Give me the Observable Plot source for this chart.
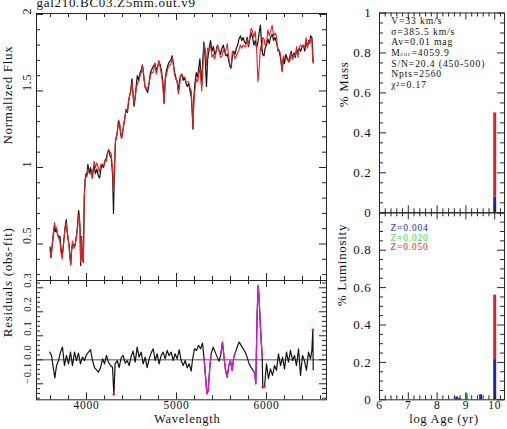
<!DOCTYPE html>
<html><head><meta charset="utf-8">
<script src="https://cdn.jsdelivr.net/npm/d3@7"></script>
<script src="https://cdn.jsdelivr.net/npm/@observablehq/plot@0.6"></script>
<style>
body{margin:0;background:#fff;}
#chart{position:relative;width:507px;height:429px;overflow:hidden;background:#fff;}
#chart svg{position:absolute;left:0;top:0;}
#chart svg text{letter-spacing:0.7px;}
#chart svg.info text{letter-spacing:0.9px;}
</style></head><body><div id="chart"></div>
<script>
const W = 507, H = 429;

// ---------- data ----------
const title = "gal210.BC03.Z5mm.out.v9";
const wave = [3595,3605,3615,3630,3645,3655,3665,3680,3695,3705,
3715,3730,3745,3760,3775,3785,3795,3805,3815,3825,
3835,3845,3860,3875,3890,3900,3912,3920,3928,3935,
3945,3955,3965,3975,3985,3995,4005,4015,4025,4035,
4045,4055,4065,4075,4085,4100,4115,4130,4145,4160,
4175,4190,4205,4220,4235,4248,4260,4275,4290,4300,
4310,4322,4340,4355,4367,4380,4390,4405,4420,4440,
4455,4470,4490,4505,4515,4528,4540,4555,4565,4580,
4595,4610,4622,4635,4650,4665,4680,4695,4710,4725,
4740,4760,4775,4790,4805,4820,4835,4850,4862,4875,
4890,4905,4920,4935,4952,4965,4980,4995,5008,5020,
5032,5045,5060,5075,5090,5105,5120,5135,5150,5165,
5175,5183,5192,5205,5220,5235,5250,5260,5270,5280,
5292,5304,5318,5333,5345,5360,5378,5395,5410,5425,
5440,5455,5470,5489,5505,5520,5535,5550,5565,5580,
5595,5607,5620,5635,5650,5665,5680,5695,5710,5725,
5740,5755,5770,5785,5800,5815,5830,5845,5860,5875,
5890,5905,5918,5933,5945,5958,5972,5985,6000,6015,
6030,6045,6063,6080,6095,6110,6125,6140,6155,6174,
6188,6200,6215,6230,6248,6262,6275,6290,6305,6320,
6335,6350,6365,6380,6395,6410,6425,6440,6455,6470,
6480,6490,6505,6512,6519];
const obsFlux = [0.48,0.41,0.47,0.55,0.62,0.58,0.60,0.56,0.54,0.55,
0.48,0.42,0.50,0.60,0.66,0.58,0.53,0.50,0.43,0.37,
0.46,0.50,0.49,0.50,0.56,0.62,0.72,0.68,0.60,0.36,
0.55,0.40,0.38,0.80,0.92,0.96,0.95,1.02,0.99,0.96,
1.00,0.97,0.93,0.98,1.01,0.96,0.99,0.95,0.93,0.99,
1.02,1.00,1.04,1.06,1.10,1.11,1.08,1.06,0.95,0.70,
0.98,1.17,1.22,1.30,1.28,1.22,1.19,1.25,1.30,1.38,
1.36,1.44,1.50,1.58,1.49,1.40,1.45,1.55,1.60,1.57,
1.62,1.64,1.67,1.60,1.53,1.51,1.49,1.55,1.62,1.64,
1.66,1.68,1.63,1.66,1.69,1.67,1.62,1.55,1.42,1.58,
1.64,1.67,1.69,1.70,1.73,1.68,1.62,1.58,1.56,1.50,
1.56,1.60,1.61,1.57,1.59,1.55,1.53,1.55,1.50,1.46,
1.36,1.25,1.45,1.55,1.62,1.59,1.66,1.71,1.62,1.54,
1.70,1.82,1.72,1.53,1.70,1.77,1.83,1.76,1.79,1.74,
1.76,1.80,1.77,1.74,1.78,1.80,1.76,1.73,1.74,1.70,
1.66,1.65,1.72,1.76,1.74,1.78,1.80,1.84,1.86,1.83,
1.85,1.82,1.81,1.85,1.79,1.84,1.88,1.85,1.80,1.83,
1.78,1.82,1.88,1.93,1.80,1.74,1.73,1.78,1.80,1.84,
1.81,1.85,1.87,1.83,1.85,1.82,1.78,1.76,1.72,1.63,
1.72,1.68,1.74,1.71,1.69,1.73,1.76,1.71,1.75,1.72,
1.77,1.75,1.78,1.76,1.79,1.80,1.76,1.82,1.79,1.83,
1.81,1.86,1.85,1.78,1.69];
const modelFlux = [0.46,0.42,0.46,0.57,0.64,0.60,0.61,0.56,0.53,0.52,
0.45,0.40,0.51,0.59,0.64,0.58,0.55,0.49,0.41,0.36,
0.47,0.52,0.47,0.49,0.56,0.60,0.69,0.67,0.61,0.38,
0.54,0.40,0.38,0.80,0.92,0.94,0.94,0.99,0.97,0.96,
0.96,0.97,0.94,1.00,1.04,1.00,1.03,1.00,0.97,1.02,
1.02,1.01,1.05,1.04,1.10,1.12,1.10,1.09,0.98,0.84,
1.00,1.18,1.22,1.31,1.30,1.22,1.19,1.24,1.30,1.38,
1.37,1.45,1.49,1.55,1.50,1.42,1.46,1.52,1.55,1.56,
1.60,1.62,1.67,1.61,1.52,1.52,1.52,1.55,1.60,1.62,
1.62,1.68,1.61,1.65,1.70,1.65,1.60,1.52,1.42,1.58,
1.61,1.65,1.67,1.67,1.72,1.67,1.60,1.58,1.56,1.48,
1.52,1.59,1.61,1.59,1.59,1.56,1.56,1.56,1.52,1.50,
1.36,1.26,1.42,1.51,1.58,1.56,1.62,1.65,1.58,1.50,
1.63,1.80,1.78,1.67,1.78,1.76,1.80,1.72,1.74,1.71,
1.75,1.80,1.77,1.72,1.73,1.77,1.75,1.77,1.81,1.72,
1.67,1.66,1.76,1.75,1.71,1.73,1.75,1.77,1.80,1.78,
1.80,1.79,1.79,1.84,1.80,1.86,1.91,1.89,1.85,1.89,
1.78,1.56,1.64,1.79,1.76,1.85,1.84,1.80,1.81,1.90,
1.86,1.89,1.93,1.86,1.88,1.86,1.76,1.77,1.74,1.63,
1.73,1.71,1.71,1.72,1.69,1.70,1.75,1.71,1.74,1.73,
1.79,1.72,1.79,1.80,1.79,1.80,1.78,1.85,1.78,1.83,
1.81,1.84,1.83,1.70,1.68];

const residWave = [3592,3611,3630,3648,3667,3689,3711,3733,3755,3778,
3800,3822,3844,3867,3889,3911,3933,3955,3978,4000,
4022,4044,4067,4089,4111,4133,4156,4178,4200,4222,
4244,4267,4289,4304,4318,4341,4363,4385,4407,4430,
4452,4474,4496,4518,4541,4563,4585,4607,4630,4652,
4674,4696,4718,4741,4763,4785,4807,4830,4852,4874,
4896,4918,4941,4963,4985,5007,5030,5052,5074,5096,
5119,5141,5163,5178,5200,5222,5244,5267,5289,5307,
5326,5337,5352,5370,5385,5407,5430,5452,5474,5493,
5511,5526,5545,5563,5581,5600,5618,5637,5655,5674,
5696,5718,5741,5763,5785,5807,5830,5852,5870,5881,
5896,5908,5919,5930,5941,5952,5959,5978,6000,6022,
6044,6067,6089,6111,6133,6156,6178,6200,6222,6244,
6267,6289,6311,6333,6356,6378,6400,6422,6444,6467,
6489,6504,6515,6519];
const resid = [0.032,0.018,-0.031,-0.075,-0.024,-0.003,0.032,0.053,-0.024,0.018,
-0.017,0.032,-0.024,0.032,-0.003,0.028,-0.017,0.011,-0.003,0.022,
0.032,0.042,-0.003,-0.033,-0.042,-0.051,-0.033,0.004,-0.017,0.018,
-0.010,-0.024,-0.031,-0.144,-0.017,-0.003,-0.033,0.008,0.018,-0.014,
-0.003,-0.024,0.014,0.036,-0.010,0.053,0.011,0.032,-0.017,0.011,
-0.033,0.004,0.028,0.046,-0.003,0.025,-0.017,0.018,0.032,0.004,
0.039,0.018,0.032,-0.003,0.025,0.004,0.042,-0.003,-0.024,-0.003,
-0.033,-0.017,-0.047,0.000,0.046,0.039,0.060,0.046,0.069,0.004,
-0.086,-0.142,-0.128,-0.031,0.025,0.053,0.032,0.011,-0.006,0.025,
0.074,0.018,-0.044,-0.072,-0.024,-0.003,-0.044,0.011,0.032,0.053,
0.074,0.060,0.046,0.032,0.011,-0.017,-0.033,-0.044,-0.058,-0.100,
0.192,0.310,0.247,0.157,0.081,0.011,-0.114,-0.111,-0.017,-0.079,
-0.038,-0.065,-0.024,-0.044,0.025,-0.024,0.011,-0.038,0.032,-0.010,
0.039,-0.003,0.018,-0.024,0.046,-0.065,0.018,-0.003,-0.044,0.032,
0.004,0.039,0.125,-0.042];
const maskRanges = [[5300, 5390], [5488, 5662], [5845, 5955]];
const clipWave = [4304, 5959, 5978, 6515];
const clipResid = [-0.144, -0.114, -0.111, 0.125];

const popLogAge = [8.68, 8.78, 9.02, 9.51, 10.0];
const metals = ["Z=0.004", "Z=0.020", "Z=0.050"];
const metalColors = ["#2323b4", "#3ad83a", "#dc2424"];
const massZ004 = [0, 0, 0, 0, 0.078];
const massZ020 = [0, 0, 0, 0, 0];
const massZ050 = [0, 0, 0, 0, 0.422];
const lumZ004 = [0.015, 0.006, 0, 0.027, 0.215];
const lumZ020 = [0, 0, 0.032, 0, 0];
const lumZ050 = [0, 0, 0, 0, 0.345];

const infoLines = ["V=33 km/s", "σ=385.5 km/s", "Av=0.01 mag", "M", "S/N=20.4 (450-500)", "Npts=2560", "χ²=0.17"];
const massSub = "cor", massVal = "=4059.9";

const fluxYTicks = [0.5, 1, 1.5, 2];
const residYTicks = [-0.1, 0, 0.1, 0.2, 0.3];
const residYLabels = ["−0.1", "0.0", "0.1", "0.2", "0.3"];
const waveTicks = [4000, 5000, 6000];
const ageTicks = [6, 7, 8, 9, 10];
const fracTicks = [0, 0.2, 0.4, 0.6, 0.8, 1];

// ---------- helpers ----------
const rng = (a, b, s) => d3.range(Math.round(a / s), Math.round(b / s) + 1).map(k => +(k * s).toFixed(5));
const minorOf = (a, b, s, major) => rng(a, b, s).filter(v => !major.some(m => Math.abs(m - v) < 1e-9));
const INK = "#262626";
function frameTicks(fw, fh, xMaj, xMin, yMaj, yMin) {
  const out = [], L = 7, S = 4, st = {stroke: INK, strokeWidth: 1};
  for (const [v, len] of [[yMaj, L], [yMin, S]]) {
    out.push(Plot.tickY(v, {y: d => d, insetRight: fw - len, ...st}));
    out.push(Plot.tickY(v, {y: d => d, insetLeft: fw - len, ...st}));
  }
  for (const [v, len] of [[xMaj, L], [xMin, S]]) {
    out.push(Plot.tickX(v, {x: d => d, insetBottom: fh - len, ...st}));
    out.push(Plot.tickX(v, {x: d => d, insetTop: fh - len, ...st}));
  }
  return out;
}
const base = {width: W, height: H,
  style: {background: "transparent", overflow: "visible", fontFamily: "'Liberation Serif','Times New Roman',serif", fontSize: "13px", color: "#111"}};
const chart = document.getElementById("chart");
function add(svg, cls) { if (cls) svg.classList.add(cls); chart.appendChild(svg); }

const specRows = wave.map((w, i) => ({w, obs: obsFlux[i], fit: modelFlux[i]}));
const resRows = residWave.map((w, i) => ({w, r: resid[i]}));
const maskRows = resRows.flatMap(d => {
  const k = maskRanges.findIndex(([a, b]) => d.w >= a && d.w <= b);
  return k < 0 ? [] : [{...d, k}];
});
const clipRows = clipWave.map((w, i) => ({w, r: clipResid[i]}));
function popRows(a, b, c) {
  return popLogAge.flatMap((age, i) => [
    {age, Z: metals[0], v: a[i]}, {age, Z: metals[1], v: b[i]}, {age, Z: metals[2], v: c[i]}
  ]).filter(d => d.v > 0);
}
const massRows = popRows(massZ004, massZ020, massZ050);
const lumRows = popRows(lumZ004, lumZ020, lumZ050);
const fracFmt = d => d === 0 ? "0" : d === 1 ? "1" : d.toFixed(1);

// left panel geometry
const LX0 = 36, LX1 = 326, AY0 = 13, AY1 = 280, BY1 = 399.3;
const waveDom = [3444.4, 6666.7];
const waveMinor = minorOf(3600, 6600, 200, waveTicks);

// ---------- panel A: spectrum ----------
add(Plot.plot({...base,
  marginLeft: LX0, marginRight: W - LX1, marginTop: AY0, marginBottom: H - AY1,
  x: {domain: waveDom, axis: null},
  y: {domain: [0.2614, 2.0065], axis: null},
  marks: [
    Plot.line(specRows, {x: "w", y: "obs", stroke: "#111", strokeWidth: 1.2}),
    Plot.line(specRows, {x: "w", y: "fit", stroke: "#dd2424", strokeWidth: 1.1}),
    Plot.frame({stroke: INK}),
    ...frameTicks(LX1 - LX0, AY1 - AY0, waveTicks, waveMinor, fluxYTicks, minorOf(0.3, 1.9, 0.1, fluxYTicks)),
    Plot.text(fluxYTicks, {y: d => d, text: d => String(d), frameAnchor: "left", dx: -9, rotate: -90, fontSize: 12}),
    Plot.text(["Normalized Flux"], {text: d => d, frameAnchor: "left", dx: 7.5 - LX0, dy: -2.5, rotate: -90}),
    Plot.text([title], {text: d => d, frameAnchor: "top-left", dy: -6.5, textAnchor: "start", lineAnchor: "bottom"})
  ]
}));

// ---------- panel B: residuals ----------
add(Plot.plot({...base,
  marginLeft: LX0, marginRight: W - LX1, marginTop: AY1, marginBottom: H - BY1,
  x: {domain: waveDom, axis: null},
  y: {domain: [-0.1667, 0.3304], axis: null},
  marks: [
    Plot.ruleY([0], {stroke: "#8a8a8a", strokeWidth: 1.4}),
    Plot.line(resRows, {x: "w", y: "r", stroke: "#111", strokeWidth: 1.2}),
    Plot.line(maskRows, {x: "w", y: "r", z: "k", stroke: "#d61ad6", strokeWidth: 1.3}),
    Plot.dot(clipRows, {x: "w", y: "r", r: 1.3, fill: "#e02020", stroke: null}),
    Plot.frame({stroke: INK}),
    ...frameTicks(LX1 - LX0, BY1 - AY1, waveTicks, waveMinor, residYTicks, minorOf(-0.16, 0.32, 0.02, residYTicks)),
    Plot.text(residYTicks, {y: d => d, text: (d, i) => residYLabels[i], frameAnchor: "left", dx: -9, rotate: -90, fontSize: 10.5}),
    Plot.text(waveTicks, {x: d => d, text: d => String(d), frameAnchor: "bottom", dy: 9.5, fontSize: 11.5}),
    Plot.text(["Wavelength"], {text: d => d, frameAnchor: "bottom", dy: 23.5, dx: 5.7, fontSize: 12.5}),
    Plot.text(["Residuals (obs-fit)"], {text: d => d, frameAnchor: "left", dx: 7 - LX0, dy: -3, rotate: -90})
  ]
}));

// right panel geometry
const RX0 = 379, RX1 = 504, CY0 = 12.5, CY1 = 212.3, DY1 = 399.3;
const ageDom = [6, 10.34];
const ageMinor = minorOf(6, 10.2, 0.2, ageTicks);
const fracMinor = minorOf(0, 1, 0.05, fracTicks);
const colorScale = {domain: metals, range: metalColors};

// ---------- panel C: mass fractions ----------
add(Plot.plot({...base,
  marginLeft: RX0, marginRight: W - RX1, marginTop: CY0, marginBottom: H - CY1,
  x: {domain: ageDom, axis: null},
  y: {domain: [0, 1], axis: null},
  color: colorScale,
  marks: [
    Plot.ruleX(massRows, Plot.stackY({x: "age", y: "v", stroke: "Z", strokeWidth: 3})),
    Plot.frame({stroke: INK}),
    ...frameTicks(RX1 - RX0, CY1 - CY0, ageTicks, ageMinor, fracTicks, fracMinor),
    Plot.text(fracTicks, {y: d => d, text: fracFmt, frameAnchor: "left", dx: -8, textAnchor: "end"}),
    Plot.text(["% Mass"], {text: d => d, frameAnchor: "left", dx: 343 - RX0, dy: -5.7, rotate: -90})
  ]
}));

// info block
const infoDy = [4.3, 14.9, 25.5, 36.1, 46.7, 57.3, 67.9];
add(Plot.plot({...base,
  marginLeft: RX0, marginRight: W - RX1, marginTop: CY0, marginBottom: H - CY1,
  x: {domain: ageDom, axis: null},
  y: {domain: [0, 1], axis: null},
  marks: [
    ...infoLines.map((t, i) => Plot.text([t], {text: d => d, frameAnchor: "top-left", dx: 11.7, dy: infoDy[i], textAnchor: "start", fontSize: 9.6})),
    Plot.text([massSub], {text: d => d, frameAnchor: "top-left", dx: 21, dy: infoDy[3] + 2.3, textAnchor: "start", fontSize: 6}),
    Plot.text([massVal], {text: d => d, frameAnchor: "top-left", dx: 32, dy: infoDy[3], textAnchor: "start", fontSize: 9.6})
  ]
}), "info");

// ---------- panel D: luminosity fractions ----------
const lumTickLabels = [0, 0.2, 0.4, 0.6, 0.8];
const legendDy = [11.7, 21.3, 30.9];
add(Plot.plot({...base,
  marginLeft: RX0, marginRight: W - RX1, marginTop: CY1, marginBottom: H - DY1,
  x: {domain: ageDom, axis: null},
  y: {domain: [0, 1], axis: null},
  color: colorScale,
  marks: [
    Plot.ruleX(lumRows, Plot.stackY({x: "age", y: "v", stroke: "Z", strokeWidth: 3})),
    Plot.frame({stroke: INK}),
    ...frameTicks(RX1 - RX0, DY1 - CY1, ageTicks, ageMinor, fracTicks, fracMinor),
    Plot.text(lumTickLabels, {y: d => d, text: fracFmt, frameAnchor: "left", dx: -8, textAnchor: "end"}),
    Plot.text(ageTicks, {x: d => d, text: d => String(d), frameAnchor: "bottom", dy: 9.5, fontSize: 11.5}),
    Plot.text(["log Age (yr)"], {text: d => d, frameAnchor: "bottom", dy: 23.5, dx: 2, fontSize: 12.5}),
    Plot.text(["% Luminosity"], {text: d => d, frameAnchor: "left", dx: 341 - RX0, dy: 0, rotate: -90})
  ]
}));
add(Plot.plot({...base,
  marginLeft: RX0, marginRight: W - RX1, marginTop: CY1, marginBottom: H - DY1,
  x: {domain: ageDom, axis: null},
  y: {domain: [0, 1], axis: null},
  marks: metals.map((m, i) => Plot.text([m], {text: d => d, frameAnchor: "top-left", dx: 11, dy: legendDy[i], textAnchor: "start", fontSize: 9.3, fill: metalColors[i]}))
}), "info");
</script></body></html>
